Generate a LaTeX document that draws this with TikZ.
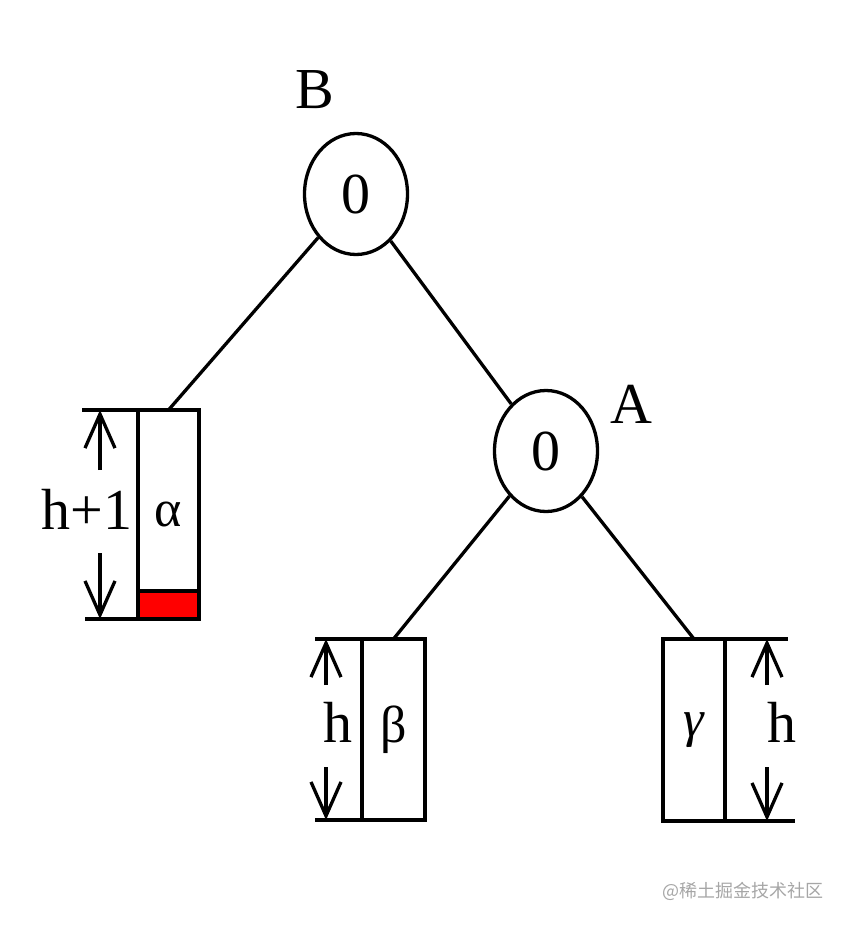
\documentclass[tikz,border=0pt]{standalone}
\usepackage{fontspec}
\setmainfont{Liberation Serif}
\newfontfamily\cjk{Noto Sans CJK SC}
\usetikzlibrary{shapes.geometric,arrows.meta}

\begin{document}
\begin{tikzpicture}[x=1pt,y=-1pt,
        treenode/.style={ellipse, draw, line width=3.3pt, minimum width=103pt,
            minimum height=121pt, inner sep=0pt, font=\fontsize{58}{60}\selectfont},
        subtree/.style={rectangle, draw, line width=3.3pt, inner sep=0pt, outer sep=0pt,
            font=\fontsize{52}{54}\selectfont},
        biglabel/.style={inner sep=0pt, font=\fontsize{58}{60}\selectfont},
        edge/.style={line width=3.3pt},
        dimline/.style={line width=3.3pt},
        dimarrow/.style={line width=3.3pt, -{Straight Barb[length=34pt,width=30pt]}}]
        \useasboundingbox (0,0) rectangle (848,926);

        % Tree nodes and their names
        \node[treenode] (B) at (356,194) {0};
        \node[treenode] (A) at (546,451) {0};
        \node[biglabel] (Blabel) at (315,90) {B};
        \node[biglabel] (Alabel) at (631,404) {A};

        % Subtrees
        \node[subtree, minimum width=61pt, minimum height=209pt] (alpha) at (168.5,514.5) {α};
        \node[subtree, minimum width=63pt, minimum height=181pt] (beta) at (393.5,729.5) {β};
        \node[subtree, minimum width=62pt, minimum height=182pt] (gamma) at (694,730) {\itshape γ};

        % Extra level at the bottom of alpha
        \fill[red] ([shift={(1.6pt,1.6pt)}]alpha.south west) rectangle ([shift={(-1.6pt,28pt)}]alpha.south east);
        \draw[dimline] ([yshift=28pt]alpha.south west) -- ([yshift=28pt]alpha.south east);

        % Edges
        \draw[edge] (B) -- (alpha.north);
        \draw[edge] (B) -- (A);
        \draw[edge] (A) -- (beta.north);
        \draw[edge] (A) -- (gamma.north);

        % Height of alpha
        \coordinate (alphaTopEnd) at (82,410);
        \coordinate (alphaBotEnd) at (85,619);
        \draw[dimline] (alphaTopEnd) -- (alpha.north west);
        \draw[dimline] (alphaBotEnd) -- (alpha.south west);
        \coordinate (alphaUpFrom) at (100,470);
        \coordinate (alphaUpTo) at (100,410);
        \coordinate (alphaDownFrom) at (100,553);
        \coordinate (alphaDownTo) at (100,619);
        \draw[dimarrow] (alphaUpFrom) -- (alphaUpTo);
        \draw[dimarrow] (alphaDownFrom) -- (alphaDownTo);
        \node[biglabel] (alphaH) at (87,509) {h+1};

        % Height of beta
        \coordinate (betaTopEnd) at (315,639);
        \coordinate (betaBotEnd) at (315,820);
        \draw[dimline] (betaTopEnd) -- (beta.north west);
        \draw[dimline] (betaBotEnd) -- (beta.south west);
        \coordinate (betaUpFrom) at (326,685);
        \coordinate (betaUpTo) at (326,639);
        \coordinate (betaDownFrom) at (326,767);
        \coordinate (betaDownTo) at (326,820);
        \draw[dimarrow] (betaUpFrom) -- (betaUpTo);
        \draw[dimarrow] (betaDownFrom) -- (betaDownTo);
        \node[biglabel] (betaH) at (338,722) {h};

        % Height of gamma
        \coordinate (gammaTopEnd) at (788,639);
        \coordinate (gammaBotEnd) at (795,821);
        \draw[dimline] (gamma.north east) -- (gammaTopEnd);
        \draw[dimline] (gamma.south east) -- (gammaBotEnd);
        \coordinate (gammaUpFrom) at (767,685);
        \coordinate (gammaUpTo) at (767,639);
        \coordinate (gammaDownFrom) at (767,767);
        \coordinate (gammaDownTo) at (767,821);
        \draw[dimarrow] (gammaUpFrom) -- (gammaUpTo);
        \draw[dimarrow] (gammaDownFrom) -- (gammaDownTo);
        \node[biglabel] (gammaH) at (782,722) {h};

        % Watermark
        \node[text=gray!70, font=\cjk\fontsize{18}{18}\selectfont] (mark) at (743,891) {@稀土掘金技术社区};
\end{tikzpicture}
\end{document}
